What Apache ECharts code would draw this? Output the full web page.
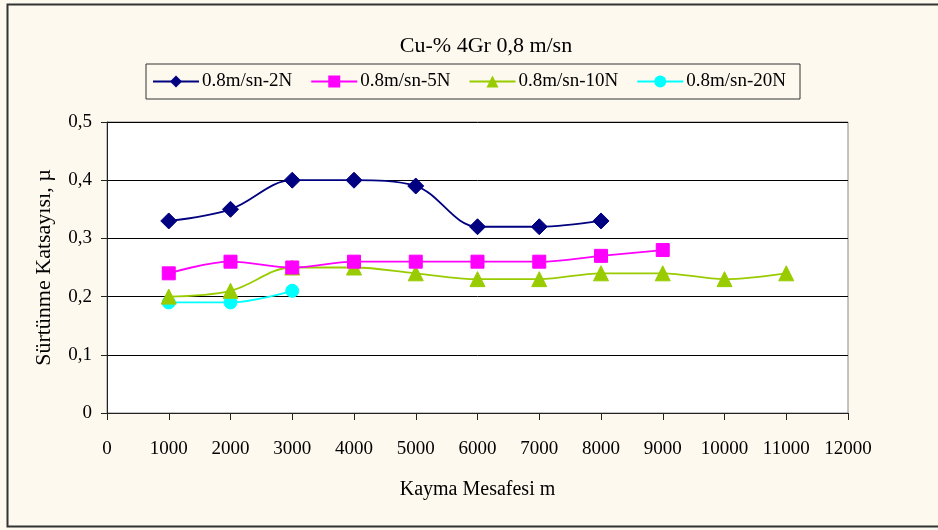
<!DOCTYPE html>
<html><head><meta charset="utf-8">
<script src="https://cdn.jsdelivr.net/npm/echarts@6/dist/echarts.min.js"></script>
<style>html,body{margin:0;padding:0;background:#FDF9EF}#c{width:938px;height:530px}</style>
</head><body><div id="c"></div>
<script>
const xTicks = [0,1000,2000,3000,4000,5000,6000,7000,8000,9000,10000,11000,12000];
const yTicks = [0,0.1,0.2,0.3,0.4,0.5];
const seriesNames = ['0.8m/sn-2N','0.8m/sn-5N','0.8m/sn-10N','0.8m/sn-20N'];
const x2N = [1000,2000,3000,4000,5000,6000,7000,8000];
const y2N = [0.33,0.35,0.40,0.40,0.39,0.32,0.32,0.33];
const x5N = [1000,2000,3000,4000,5000,6000,7000,8000,9000];
const y5N = [0.24,0.26,0.25,0.26,0.26,0.26,0.26,0.27,0.28];
const x10N = [1000,2000,3000,4000,5000,6000,7000,8000,9000,10000,11000];
const y10N = [0.20,0.21,0.25,0.25,0.24,0.23,0.23,0.24,0.24,0.23,0.24];
const x20N = [1000,2000,3000];
const y20N = [0.19,0.19,0.21];

const pair = (xs, ys) => xs.map((x, i) => [x, ys[i]]);
const font = '"Liberation Serif", "Times New Roman", serif';
const chart = echarts.init(document.getElementById('c'), null, {renderer:'canvas'});
const colors = ['#000080','#FF00FF','#99CC00','#00FFFF'];
const symbols = ['diamond','rect','triangle','circle'];
const sizes = [16,13,15,13];
const datas = [pair(x2N,y2N), pair(x5N,y5N), pair(x10N,y10N), pair(x20N,y20N)];

chart.setOption({
  backgroundColor: '#FDF9EF',
  animation: false,
  graphic: [
    {type:'rect', z:-10, shape:{x:7.5, y:4.5, width:940, height:522}, style:{fill:'#FDF9EF', stroke:'#333', lineWidth:2}},
    {type:'rect', z:-5, shape:{x:107, y:122, width:741, height:291}, style:{fill:'#FFFFFF', stroke:'#888', lineWidth:1}}
  ],
  title: {
    text: 'Cu-% 4Gr 0,8 m/sn', left: 481, top: 30, textAlign: 'center',
    textStyle: {fontFamily: font, fontSize: 22, fontWeight: 'normal', color: '#000'}
  },
  legend: {
    data: seriesNames, left: 146, top: 64,
    orient: 'horizontal', itemGap: 18, itemWidth: 46, itemHeight: 15,
    padding: [8, 14, 8, 6], borderColor: '#333', borderWidth: 1,
    textStyle: {fontFamily: font, fontSize: 19, color: '#000', padding:[0,0,0,-2]}
  },
  grid: {left: 107, top: 122, right: 90, bottom: 117, containLabel: false},
  xAxis: {
    type: 'value', min: 0, max: 12000, interval: 1000,
    name: 'Kayma Mesafesi m', nameLocation: 'middle', nameGap: 67,
    nameTextStyle: {fontFamily: font, fontSize: 20, color: '#000'},
    axisLine: {show: true, lineStyle: {color: '#222', width: 1}},
    axisTick: {show: true, length: 7, lineStyle: {color: '#222'}},
    axisLabel: {fontFamily: font, fontSize: 19, color: '#000', margin: 27,
      formatter: v => String(v)},
    splitLine: {show: false}
  },
  yAxis: {
    type: 'value', min: 0, max: 0.5, interval: 0.1,
    name: 'Sürtünme Katsayısı, µ', nameLocation: 'middle', nameGap: 52,
    nameTextStyle: {fontFamily: font, fontSize: 22, color: '#000'},
    axisLine: {show: true, lineStyle: {color: '#222', width: 1}},
    axisTick: {show: true, length: 6, lineStyle: {color: '#222'}},
    axisLabel: {fontFamily: font, fontSize: 19, color: '#000', margin: 15,
      formatter: v => String(Math.round(v*10)/10).replace('.', ',')},
    splitLine: {show: true, lineStyle: {color: '#000', width: 1}}
  },
  series: seriesNames.map((n, i) => ({
    name: n, type: 'line', data: datas[i], smooth: 0.35,
    symbol: symbols[i], symbolSize: sizes[i], showAllSymbol: true,
    lineStyle: {color: colors[i], width: 1.8},
    itemStyle: {color: colors[i], borderColor: colors[i]},
    z: 10 - i
  }))
});
</script></body></html>
